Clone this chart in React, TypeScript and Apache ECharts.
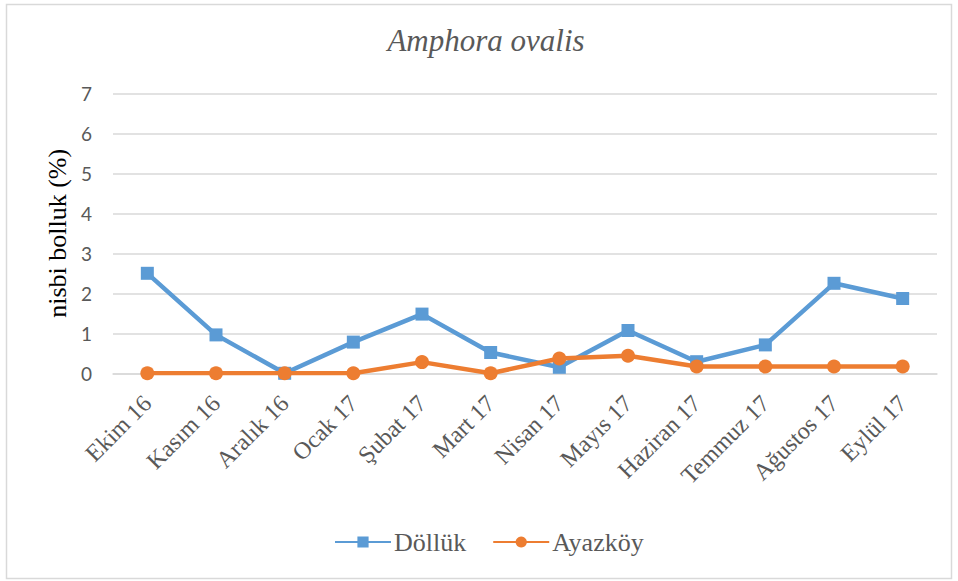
import React, { useEffect, useRef } from "react";
import * as echarts from "echarts";

const categories = [
  "Ekim 16", "Kasım 16", "Aralık 16", "Ocak 17", "Şubat 17", "Mart 17",
  "Nisan 17", "Mayıs 17", "Haziran 17", "Temmuz 17", "Ağustos 17", "Eylül 17",
];
const dollukValues = [2.5, 0.96, 0.0, 0.78, 1.48, 0.52, 0.15, 1.07, 0.29, 0.71, 2.25, 1.87];
const ayazkoyValues = [0, 0, 0, 0, 0.28, 0, 0.37, 0.44, 0.17, 0.17, 0.17, 0.17];
const seriesNames = ["Döllük", "Ayazköy"];
const titleText = "Amphora ovalis";
const yAxisName = "nisbi bolluk (%)";

export default function App() {
  const ref = useRef<HTMLDivElement>(null);
  useEffect(() => {
    if (!ref.current) return;
    const chart = echarts.init(ref.current, undefined, { renderer: "svg" });
    const serif = "Liberation Serif";
    const sans = "Lato";
    chart.setOption({
      animation: false,
      backgroundColor: "#ffffff",
      textStyle: { fontFamily: serif },
      title: {
        text: titleText,
        left: 486,
        textAlign: "center",
        top: 25,
        padding: 0,
        textStyle: { fontFamily: serif, fontStyle: "italic", fontWeight: "normal", fontSize: 31, color: "#595959" },
      },
      graphic: [
        {
          type: "rect",
          shape: { x: 6.5, y: 4.5, width: 945, height: 574 },
          style: { fill: "none", stroke: "#d9d9d9", lineWidth: 1.5 },
          silent: true,
        },
      ],
      legend: {
        top: 529,
        left: 334,
        padding: 0,
        itemWidth: 56,
        itemHeight: 14,
        itemGap: 26,
        textStyle: { fontFamily: serif, fontSize: 26, color: "#595959", padding: [0, 0, 0, -2] },
        data: seriesNames,
      },
      grid: { left: 113, right: 21, top: 93.3, bottom: 581 - 373.3 },
      xAxis: {
        type: "category",
        data: categories,
        boundaryGap: true,
        axisLine: { show: true, lineStyle: { color: "#d9d9d9", width: 1.5 } },
        axisTick: { show: false },
        axisLabel: {
          rotate: 45,
          interval: 0,
          margin: 26,
          fontFamily: serif,
          fontSize: 24,
          color: "#595959",
        },
      },
      yAxis: {
        type: "value",
        min: 0,
        max: 7,
        interval: 1,
        name: yAxisName,
        nameLocation: "middle",
        nameGap: 40,
        nameTextStyle: { fontFamily: serif, fontSize: 26, color: "#000000" },
        axisLine: { show: false },
        axisTick: { show: false },
        axisLabel: { fontFamily: sans, fontSize: 19, color: "#595959", margin: 21 },
        splitLine: { lineStyle: { color: "#d9d9d9", width: 1.5 } },
      },
      series: [
        {
          name: seriesNames[0],
          type: "line",
          data: dollukValues,
          symbol: "rect",
          symbolSize: 13,
          lineStyle: { color: "#5B9BD5", width: 4.5 },
          itemStyle: { color: "#5B9BD5" },
          z: 2,
        },
        {
          name: seriesNames[1],
          type: "line",
          data: ayazkoyValues,
          symbol: "circle",
          symbolSize: 14,
          lineStyle: { color: "#ED7D31", width: 4.5 },
          itemStyle: { color: "#ED7D31" },
          z: 3,
        },
      ],
    });
    return () => chart.dispose();
  }, []);
  return (
    <div
      ref={ref}
      style={{ position: "fixed", left: 0, top: 0, width: 958, height: 581, background: "#fff" }}
    />
  );
}
